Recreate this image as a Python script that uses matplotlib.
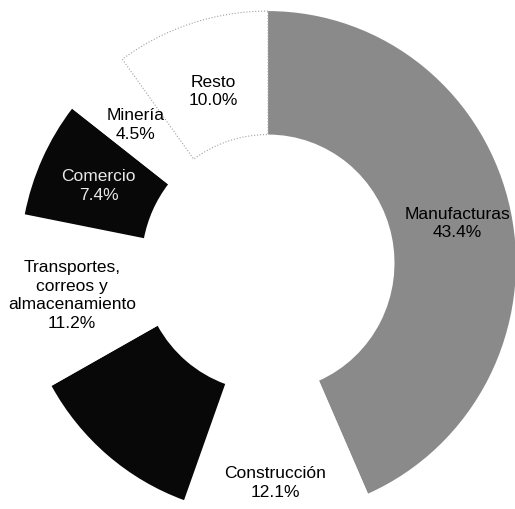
import numpy as np
import matplotlib
matplotlib.use('Agg')
from matplotlib import pyplot as plt

# sectores, en sentido horario desde arriba
sectores = ['Manufacturas', 'Construcción', '', 'Transportes,\ncorreos y\nalmacenamiento',
            'Comercio', 'Minería', 'Resto']
porcentajes = [43.4, 12.1, 11.4, 11.2, 7.4, 4.5, 10.0]

colores = ['#8a8a8a', 'white', '#080808', 'white', '#080808', 'white', 'white']
color_texto = ['black', 'black', 'white', 'black', '#e8e8e8', 'black', 'black']
radio_texto = [0.78, 0.87, 0.76, 0.80, 0.75, 0.77, 0.72]

plt.rcParams['font.family'] = ['Liberation Sans', 'DejaVu Sans']

fig = plt.figure(figsize=(5.15, 5.10), dpi=100)
ax = fig.add_axes([0, 0, 1, 1])

wedges, _ = ax.pie(porcentajes, colors=colores, startangle=90, counterclock=False,
                   radius=1.0, wedgeprops=dict(width=0.49, linewidth=0))

# el sector "Resto" solo tiene un borde punteado claro
wedges[6].set_edgecolor('#a0a0a0')
wedges[6].set_linestyle(':')
wedges[6].set_linewidth(0.8)

total = sum(porcentajes)
acum = 0.0
for i, (nom, val) in enumerate(zip(sectores, porcentajes)):
    medio = 90 - 360 * (acum + val / 2) / total
    acum += val
    if not nom:
        continue
    ang = np.deg2rad(medio)
    r = radio_texto[i]
    ax.text(r * np.cos(ang), r * np.sin(ang), '%s\n%.1f%%' % (nom, val),
            ha='center', va='center', fontsize=12.5, color=color_texto[i],
            linespacing=1.3)

# el escaneo original esta un poco estirado en vertical
ax.set_aspect('auto')
ax.set_xlim(-1.081, 0.996)
ax.set_ylim(-0.976, 1.048)
ax.axis('off')

fig.savefig('out.png', dpi=100, facecolor='white')
